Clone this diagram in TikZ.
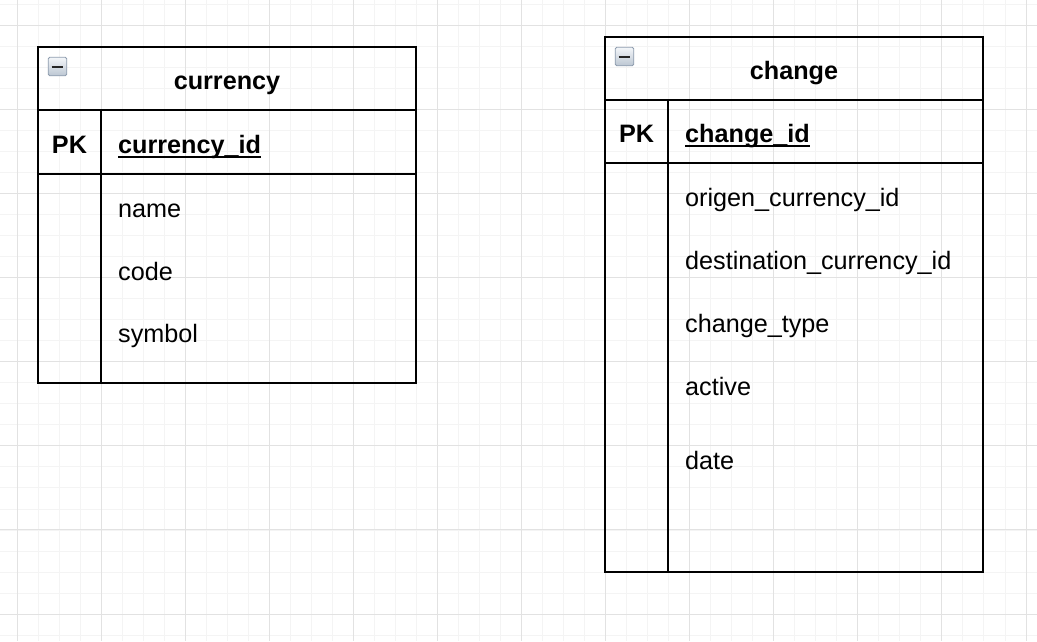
\documentclass[tikz,border=0pt]{standalone}
\usepackage{fontspec}
\setmainfont{Liberation Sans}
\usetikzlibrary{calc}
\newcommand\erfont{\fontsize{25.2pt}{30pt}\selectfont}
\definecolor{majorgrid}{HTML}{E2E2E2}
\definecolor{minorgridc}{HTML}{F4F4F4}
\definecolor{icnborder}{HTML}{8E9CAE}
\definecolor{icntop}{HTML}{F4F7FA}
\definecolor{icnbot}{HTML}{BCC6D2}
\begin{document}
\begin{tikzpicture}[x=1pt,y=-1pt,
  minorgrid/.style={draw=minorgridc, line width=0.9pt},
  majgrid/.style={draw=majorgrid, line width=0.9pt},
  tbl/.style={draw=black, line width=1.8pt, inner sep=0pt, outer sep=0pt},
  tline/.style={draw=black, line width=1.8pt},
  fld/.style={anchor=base west, inner sep=0pt, font=\erfont},
  ttl/.style={anchor=base, inner sep=0pt, font=\erfont\bfseries},
  keyfld/.style={anchor=base west, inner sep=0pt, font=\erfont\bfseries},
  iconbox/.style={draw=icnborder, line width=0.8pt, rounded corners=1.5pt, top color=icntop, bottom color=icnbot, minimum size=18.5pt, inner sep=0pt},
  minus/.style={draw=black!85, line width=2pt},
  uline/.style={draw=black, line width=1.6pt}]
\useasboundingbox (0,0) rectangle (1037,641);
\fill[white] (0,0) rectangle (1037,641);
% grid
\foreach \i in {0,...,49} \draw[minorgrid] ({-4+21.02*\i},0) -- ({-4+21.02*\i},641);
\foreach \j in {0,...,30} \draw[minorgrid] (0,{4+21.04*\j}) -- (1037,{4+21.04*\j});
\foreach \i in {0,...,12} \draw[majgrid] ({17+84.08*\i},0) -- ({17+84.08*\i},641);
\foreach \j in {0,...,7} \draw[majgrid] (0,{25+84.15*\j}) -- (1037,{25+84.15*\j});

% ---- currency table ----
\node[tbl, minimum width=378pt, minimum height=336pt] (currency) at (227,215) {};
\draw[tline] (38,110) -- (416,110);
\draw[tline] (38,174) -- (416,174);
\draw[tline] (101,110) -- (101,383);
\node[iconbox] (curicon) at (57.5,66.5) {};
\draw[minus] ($(curicon.center)+(-5.8,0)$) -- ($(curicon.center)+(5.8,0)$);
\node[ttl] (curtitle) at (227,89.5) {currency};
\node[ttl] (curpk) at (69.5,153.5) {PK};
\node[keyfld] (curid) at (118,153.5) {currency\_id};
\draw[uline] ($(curid.base west)+(0,3.5)$) -- ($(curid.base east)+(0,3.5)$);
\node[fld] (curname) at (118,217.5) {name};
\node[fld] (curcode) at (118,280) {code};
\node[fld] (cursym) at (118,342.5) {symbol};

% ---- change table ----
\node[tbl, minimum width=378pt, minimum height=535pt] (change) at (794,304.5) {};
\draw[tline] (605,100) -- (983,100);
\draw[tline] (605,163) -- (983,163);
\draw[tline] (668,100) -- (668,572);
\node[iconbox] (chgicon) at (624.5,56.5) {};
\draw[minus] ($(chgicon.center)+(-5.8,0)$) -- ($(chgicon.center)+(5.8,0)$);
\node[ttl] (chgtitle) at (794,79.5) {change};
\node[ttl] (chgpk) at (636.5,142.5) {PK};
\node[keyfld] (chgid) at (685,142.5) {change\_id};
\draw[uline] ($(chgid.base west)+(0,3.5)$) -- ($(chgid.base east)+(0,3.5)$);
\node[fld] (chgorig) at (685,206.5) {origen\_currency\_id};
\node[fld] (chgdest) at (685,269) {destination\_currency\_id};
\node[fld] (chgtype) at (685,332) {change\_type};
\node[fld] (chgact) at (685,395) {active};
\node[fld] (chgdate) at (685,469) {date};
\end{tikzpicture}
\end{document}
